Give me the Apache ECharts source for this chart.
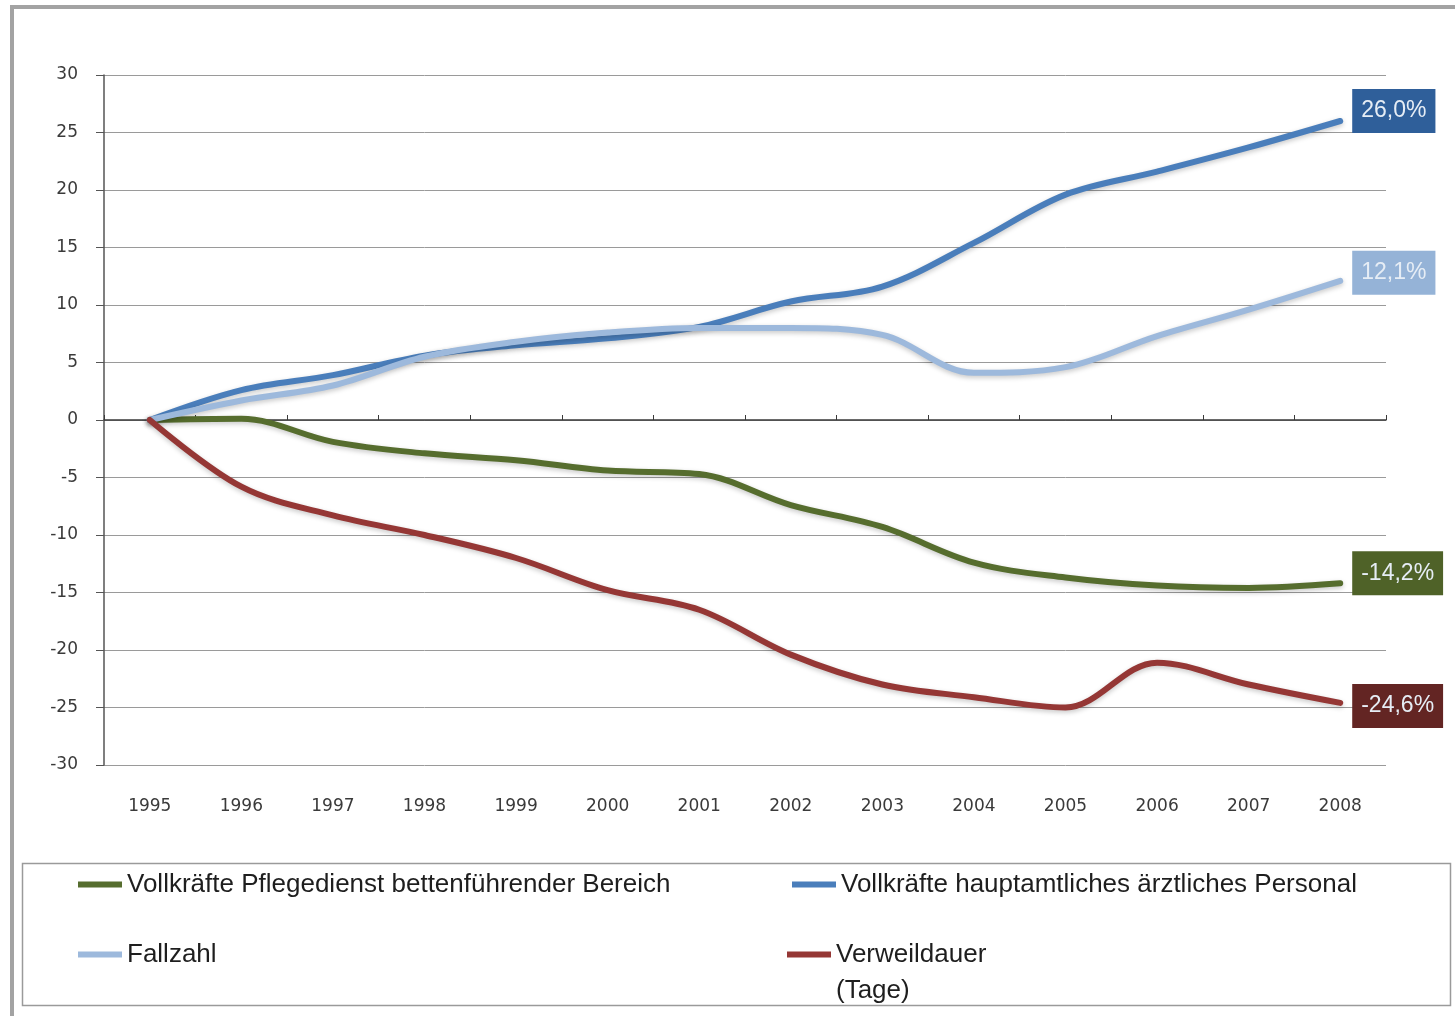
<!DOCTYPE html>
<html>
<head>
<meta charset="utf-8">
<script src="https://cdn.jsdelivr.net/npm/echarts@6/dist/echarts.min.js"></script>
<style>
  html, body { margin: 0; padding: 0; background: #fff; }
  #chart { width: 1455px; height: 1016px; }
</style>
</head>
<body>
<div id="chart"></div>
<script>
// Years on the category axis
const years = ['1995','1996','1997','1998','1999','2000','2001','2002','2003','2004','2005','2006','2007','2008'];

// Change against 1995 in percent
const pflegedienst = [0, 0.1, -1.9, -2.9, -3.5, -4.4, -4.7, -7.4, -9.3, -12.4, -13.7, -14.4, -14.6, -14.2];
const aerztlich    = [0, 2.6, 3.9, 5.6, 6.5, 7.1, 8.1, 10.3, 11.6, 15.4, 19.6, 21.6, 23.7, 26.0];
const fallzahl     = [0, 1.7, 3.0, 5.5, 6.8, 7.6, 8.0, 8.0, 7.4, 4.1, 4.6, 7.3, 9.6, 12.1];
const verweildauer = [0, -5.8, -8.3, -10.0, -12.0, -14.8, -16.5, -20.4, -23.0, -24.1, -25.0, -21.1, -23.0, -24.6];

// Y axis ticks
const yMin = -30, yMax = 30, yStep = 5;

const seriesNames = [
  'Vollkräfte Pflegedienst bettenführender Bereich',
  'Vollkräfte hauptamtliches ärztliches Personal',
  'Fallzahl',
  'Verweildauer'
];
const unitNote = '(Tage)';

const colors = ['#566d2e', '#4a7ebb', '#9db9dc', '#953735'];
const boxColors = ['#4f6228', '#2f5f9a', '#95b3d7', '#632523'];
const labelOffsets = [[2, -10], [2, -10], [2, -8], [2, 3]];

const fmtPct = v => v.toFixed(1).replace('.', ',') + '%';

const chart = echarts.init(document.getElementById('chart'), null, { renderer: 'canvas' });

const makeSeries = (i, data) => ({
  name: seriesNames[i],
  type: 'line',
  data: data,
  xAxisIndex: 0,
  smooth: 0.35,
  symbol: 'none',
  lineStyle: {
    color: colors[i], width: 6, cap: 'round',
    shadowColor: 'rgba(0,0,0,0.22)', shadowBlur: 5, shadowOffsetY: 2
  },
  itemStyle: { color: colors[i] },
  endLabel: {
    show: true,
    formatter: p => fmtPct(p.value),
    backgroundColor: boxColors[i],
    color: '#e6edf5',
    fontFamily: 'Liberation Sans, Arial, sans-serif',
    fontSize: 23,
    padding: [11, 9, 10, 9],
    distance: 10,
    offset: labelOffsets[i]
  },
  emphasis: { disabled: true }
});

const legendFont = { fontFamily: 'Liberation Sans, Arial, sans-serif', fontSize: 26, color: '#1e1e1e', lineHeight: 37 };

const legendBase = {
  icon: 'rect',
  itemWidth: 44,
  itemHeight: 6,
  padding: 0,
  textStyle: legendFont,
  selectedMode: false
};

chart.setOption({
  animation: false,
  backgroundColor: '#ffffff',
  grid: { left: 104, right: 69, top: 75, height: 690, containLabel: false },
  legend: [
    Object.assign({}, legendBase, { data: [seriesNames[0]], left: 78, top: 866 }),
    Object.assign({}, legendBase, { data: [seriesNames[1]], left: 792, top: 866 }),
    Object.assign({}, legendBase, { data: [seriesNames[2]], left: 78, top: 936 }),
    Object.assign({}, legendBase, { data: [seriesNames[3]], left: 787, top: 936 })
  ],
  xAxis: [
    {
      type: 'category',
      data: years,
      position: 'bottom',
      boundaryGap: true,
      axisLine: { show: false, onZero: false },
      axisTick: { show: false },
      axisLabel: { margin: 33, fontFamily: 'DejaVu Sans, sans-serif', fontSize: 17, color: '#3a3a3a' },
      splitLine: { show: false }
    },
    {
      type: 'category',
      data: years,
      position: 'top',
      boundaryGap: true,
      axisLine: { show: true, onZero: true, lineStyle: { color: '#3a3a3a', width: 1.5 } },
      axisTick: { show: true, inside: false, length: 5, lineStyle: { color: '#3a3a3a' } },
      axisLabel: { show: false },
      splitLine: { show: false }
    }
  ],
  yAxis: {
    type: 'value',
    min: yMin, max: yMax, interval: yStep,
    axisLine: { show: true, onZero: false, lineStyle: { color: '#555', width: 1.5 } },
    axisTick: { show: true, length: 8, lineStyle: { color: '#555' } },
    axisLabel: { margin: 26, fontFamily: 'DejaVu Sans, sans-serif', fontSize: 17, color: '#3a3a3a' },
    splitLine: { show: true, lineStyle: { color: '#9a9a9a', width: 1 } }
  },
  graphic: [
    { type: 'rect', shape: { x: 12, y: 7, width: 1460, height: 1030 },
      style: { fill: 'none', stroke: '#a3a3a3', lineWidth: 4 }, silent: true, z: 100 },
    { type: 'rect', shape: { x: 22.5, y: 863.5, width: 1428, height: 142 },
      style: { fill: 'none', stroke: '#9a9a9a', lineWidth: 1.5 }, silent: true, z: -1 },
    // second line of the Verweildauer legend entry
    { type: 'text', left: 836, top: 978,
      style: { text: unitNote, fill: legendFont.color, fontFamily: legendFont.fontFamily, fontSize: legendFont.fontSize },
      silent: true }
  ],
  series: [
    makeSeries(0, pflegedienst),
    makeSeries(1, aerztlich),
    makeSeries(2, fallzahl),
    makeSeries(3, verweildauer)
  ]
});
</script>
</body>
</html>
